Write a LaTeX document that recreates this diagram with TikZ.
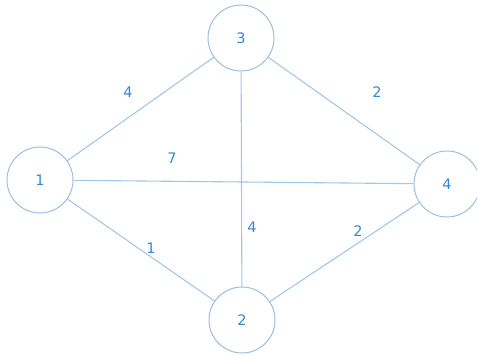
\documentclass[tikz,border=0pt]{standalone}
\usepackage{fontspec}
\setmainfont{DejaVu Sans}
\definecolor{edgec}{RGB}{160,200,235}
\definecolor{circc}{RGB}{155,190,228}
\definecolor{txtc}{RGB}{50,135,215}
\begin{document}
\begin{tikzpicture}[x=1pt,y=-1pt,
  vtx/.style={circle,draw=circc,line width=1pt,minimum size=66pt,inner sep=0pt,text=txtc,font=\fontsize{14.5}{16}\selectfont},
  edge/.style={draw=edgec,line width=1.1pt},
  wlab/.style={text=txtc,font=\fontsize{14.5}{16}\selectfont,inner sep=0pt}]
\useasboundingbox (0,0) rectangle (477,354);
\node[vtx] (n1) at (40,180) {1};
\node[vtx] (n3) at (241,38) {3};
\node[vtx] (n4) at (447,184) {4};
\node[vtx] (n2) at (242,320) {2};
\draw[edge] (n1) -- (n3);
\draw[edge] (n1) -- (n4);
\draw[edge] (n1) -- (n2);
\draw[edge] (n3) -- (n2);
\draw[edge] (n3) -- (n4);
\draw[edge] (n2) -- (n4);
\node[wlab] (w13) at (128,92) {4};
\node[wlab] (w14) at (172,158) {7};
\node[wlab] (w12) at (151,248) {1};
\node[wlab] (w32) at (252,227) {4};
\node[wlab] (w34) at (377,92) {2};
\node[wlab] (w24) at (358,231) {2};
\end{tikzpicture}
\end{document}
